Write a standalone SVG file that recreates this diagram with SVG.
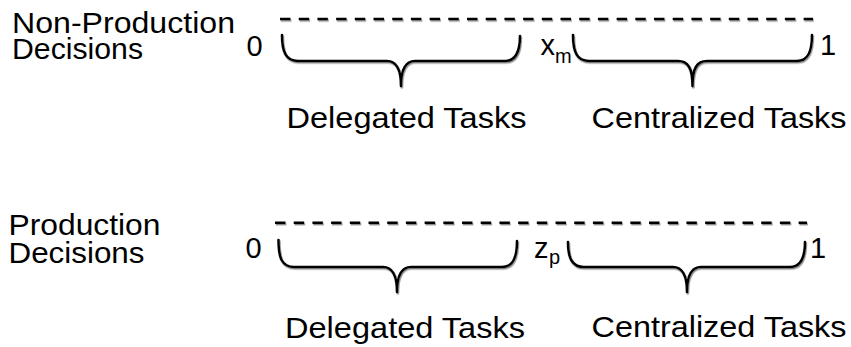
<svg xmlns="http://www.w3.org/2000/svg" width="851" height="347" viewBox="0 0 851 347">
  <defs>
    <filter id="shadow" filterUnits="userSpaceOnUse" x="0" y="0" width="851" height="347">
      <feDropShadow dx="0.8" dy="1.4" stdDeviation="0.4" flood-color="#7f7f7f" flood-opacity="0.9"/>
    </filter>
  </defs>
  <style>
    text { font-family: "Liberation Sans", Arial, sans-serif; fill: #000; }
    .lbl { font-size: 29px; }
    .sub { font-size: 20px; }
    .dash { fill: none; stroke: #000; stroke-width: 2.6; stroke-dasharray: 10.5 8.2; filter: url(#shadow); }
    .brace { fill: none; stroke: #000; stroke-width: 2.6; stroke-linecap: round; stroke-linejoin: round; filter: url(#shadow); }
  </style>

  <!-- Non-Production row -->
  <g id="nonproduction-row">
    <g id="nonproduction-label">
      <text class="lbl" x="12" y="33.3" textLength="223" lengthAdjust="spacingAndGlyphs">Non-Production</text>
      <text class="lbl" x="12" y="59.3" textLength="131" lengthAdjust="spacingAndGlyphs">Decisions</text>
    </g>
    <path id="nonproduction-axis" class="dash" d="M280,19 H813"/>
    <text id="nonproduction-zero" class="lbl" x="246.5" y="56">0</text>
    <g id="nonproduction-delegated">
      <path class="brace" d="M282,35 C282,52 286,61 298,61 L387,61 C396,61 401,68 401,86 C401,68 406,61 415,61 L505,61 C516,61 520,52 520,36"/>
      <text class="lbl" x="286.5" y="128.3" textLength="240" lengthAdjust="spacingAndGlyphs">Delegated Tasks</text>
    </g>
    <g id="nonproduction-xm">
      <text class="lbl" x="540.5" y="55">x</text>
      <text class="sub" x="555" y="63.3">m</text>
    </g>
    <g id="nonproduction-centralized">
      <path class="brace" d="M573,35 C573,52 577,61 589,61 L678,61 C688,61 692.5,68 692.5,86 C692.5,68 697,61 707,61 L797,61 C808,61 812,52 812,35"/>
      <text class="lbl" x="591.5" y="128.3" textLength="255" lengthAdjust="spacingAndGlyphs">Centralized Tasks</text>
    </g>
    <text id="nonproduction-one" class="lbl" x="820" y="55">1</text>
  </g>

  <!-- Production row -->
  <g id="production-row">
    <g id="production-label">
      <text class="lbl" x="8.5" y="235" textLength="152" lengthAdjust="spacingAndGlyphs">Production</text>
      <text class="lbl" x="8.5" y="263.3" textLength="136" lengthAdjust="spacingAndGlyphs">Decisions</text>
    </g>
    <path id="production-axis" class="dash" d="M275,222.7 H807"/>
    <text id="production-zero" class="lbl" x="245.5" y="258.3">0</text>
    <g id="production-delegated">
      <path class="brace" d="M278.5,240 C278.5,258 282,267 294,267 L383,267 C392,267 397,274 397,292 C397,274 402,267 411,267 L502,267 C513,267 517,258 517,241"/>
      <text class="lbl" x="285" y="338.3" textLength="240" lengthAdjust="spacingAndGlyphs">Delegated Tasks</text>
    </g>
    <g id="production-zp">
      <text class="lbl" x="534" y="258.3">z</text>
      <text class="sub" x="549" y="263.5">p</text>
    </g>
    <g id="production-centralized">
      <path class="brace" d="M568,242 C568,258 572,267 584,267 L673,267 C682,267 687,274 687,292 C687,274 692,267 701,267 L790,267 C801,267 805,258 805,242"/>
      <text class="lbl" x="591.5" y="337.3" textLength="255" lengthAdjust="spacingAndGlyphs">Centralized Tasks</text>
    </g>
    <text id="production-one" class="lbl" x="810" y="258.3">1</text>
  </g>
</svg>
